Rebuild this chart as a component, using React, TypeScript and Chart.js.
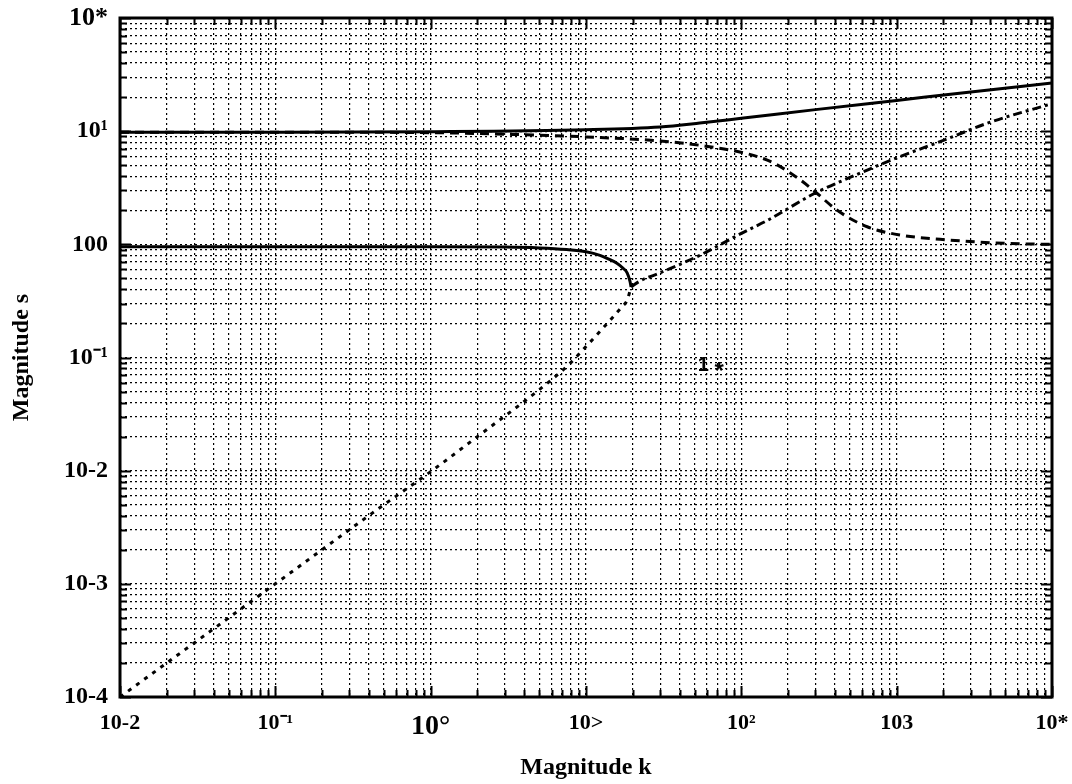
import React, { useEffect, useRef } from "react";
import { Chart, registerables } from "chart.js";
Chart.register(...registerables);

// ---- data ----
const kUpperSolid = [0.01, 0.1, 1, 10, 30, 54, 100, 300, 1000, 3000, 10000];
const sUpperSolid = [9.8, 9.8, 9.9, 10.3, 10.9, 11.8, 13.0, 15.5, 18.7, 22.2, 26.7];

const kUpperDashed = [0.01, 0.1, 1, 3, 10, 30, 54, 115, 163, 240, 300, 414, 646, 1050, 2213, 5000, 10000];
const sUpperDashed = [9.8, 9.8, 9.7, 9.4, 8.9, 8.2, 7.5, 6.2, 5.2, 3.7, 2.9, 2.0, 1.43, 1.21, 1.09, 1.02, 1.0];

const kLowerSolid = [0.01, 0.1, 1, 3, 5, 7.5, 10, 12.3, 14, 15.8, 17.2, 18.4, 19.2, 19.5];
const sLowerSolid = [0.95, 0.95, 0.95, 0.945, 0.93, 0.9, 0.86, 0.8, 0.74, 0.68, 0.62, 0.56, 0.47, 0.42];

const kLowerDotted = [0.01, 0.1, 0.5, 1, 2, 5, 7.5, 10, 12.3, 15, 17, 18.4, 19.5];
const sLowerDotted = [0.0001, 0.001, 0.005, 0.0098, 0.02, 0.052, 0.083, 0.125, 0.17, 0.23, 0.28, 0.32, 0.42];

const kRisingDashDot = [19.5, 22, 30, 54, 100, 150, 300, 500, 1000, 2000, 4000, 10000];
const sRisingDashDot = [0.42, 0.47, 0.56, 0.8, 1.25, 1.65, 2.85, 3.9, 5.8, 8.3, 12, 17.5];

// tick labels (as printed in the reference)
const xTickExponents = [-2, -1, 0, 1, 2, 3, 4];
const xTickLabels = ["10-2", "10⁻¹", "10°", "10>", "10²", "103", "10*"];
const yTickExponents = [-4, -3, -2, -1, 0, 1, 2];
const yTickLabels = ["10-4", "10-3", "10-2", "10⁻¹", "100", "10¹", "10*"];

const xTitle = "Magnitude k";
const yTitle = "Magnitude s";

// stray annotation marks in the plot
const noteTexts = ["1", "*"];
const noteK = [57, 72];
const noteS = [0.085, 0.074];

// ---- helpers ----
const SERIF = "'Liberation Serif', 'Times New Roman', serif";

function expOf(v: number): number | null {
  const l = Math.log10(v);
  const r = Math.round(l);
  return Math.abs(l - r) < 1e-6 ? r : null;
}

function pts(ks: number[], ss: number[]) {
  return ks.map((k, i) => ({ x: k, y: ss[i] }));
}

function dropHalfTicks(scale: any) {
  scale.ticks = scale.ticks.filter((t: any) => {
    const v = t.value;
    const m = v / Math.pow(10, Math.floor(Math.log10(v) + 1e-9));
    return Math.abs(m - 1.5) > 1e-6;
  });
}

const framePlugin = {
  id: "frameTicks",
  afterDraw(chart: any) {
    const { ctx, chartArea: a, scales } = chart;
    const xs = scales.x;
    const ys = scales.y;
    ctx.save();
    ctx.strokeStyle = "#000";
    ctx.lineWidth = 2;
    ctx.beginPath();
    xs.ticks.forEach((t: any) => {
      const px = Math.round(xs.getPixelForValue(t.value)) + 0.5;
      const len = expOf(t.value) !== null ? 11 : 7;
      ctx.moveTo(px, a.bottom);
      ctx.lineTo(px, a.bottom - len);
      ctx.moveTo(px, a.top);
      ctx.lineTo(px, a.top + len);
    });
    ys.ticks.forEach((t: any) => {
      const py = Math.round(ys.getPixelForValue(t.value)) + 0.5;
      const len = expOf(t.value) !== null ? 11 : 7;
      ctx.moveTo(a.left, py);
      ctx.lineTo(a.left + len, py);
      ctx.moveTo(a.right, py);
      ctx.lineTo(a.right - len, py);
    });
    ctx.stroke();
    ctx.lineWidth = 3;
    ctx.strokeRect(a.left, a.top, a.right - a.left, a.bottom - a.top);

    // annotation marks
    ctx.fillStyle = "#000";
    ctx.textAlign = "center";
    ctx.textBaseline = "middle";
    noteTexts.forEach((txt, i) => {
      ctx.font = i === 0 ? "bold 20px 'Liberation Sans', sans-serif" : "bold 24px 'Liberation Sans', sans-serif";
      ctx.fillText(txt, xs.getPixelForValue(noteK[i]), ys.getPixelForValue(noteS[i]));
    });
    ctx.restore();
  },
};

export default function App() {
  const ref = useRef<HTMLCanvasElement | null>(null);

  useEffect(() => {
    if (!ref.current) return;
    const line = (label: string, data: any[], dash: number[], width: number) => ({
      label,
      data,
      borderColor: "#000",
      backgroundColor: "#000",
      borderWidth: width,
      borderDash: dash,
      pointRadius: 0,
      showLine: true,
      cubicInterpolationMode: "monotone",
      fill: false,
    });

    const gridOpts = {
      color: "#000",
      lineWidth: 1.2,
      drawTicks: false,
    };

    const chart = new Chart(ref.current, {
      type: "scatter",
      data: {
        datasets: [
          line("upper solid", pts(kUpperSolid, sUpperSolid), [], 3),
          line("lower solid", pts(kLowerSolid, sLowerSolid), [], 3),
          line("upper dashed", pts(kUpperDashed, sUpperDashed), [9, 6], 3),
          line("rising dash-dot", pts(kRisingDashDot, sRisingDashDot), [9, 4, 3, 4], 3),
          line("lower dotted", pts(kLowerDotted, sLowerDotted), [4, 6], 3),
        ],
      },
      options: {
        responsive: false,
        animation: false,
        layout: { padding: { left: 0, top: 18, right: 20, bottom: 0 } },
        plugins: {
          legend: { display: false },
          tooltip: { enabled: false },
        },
        scales: {
          x: {
            type: "logarithmic",
            min: 0.01,
            max: 10000,
            afterBuildTicks: dropHalfTicks,
            afterFit: (s: any) => {
              s.height = 87;
              s.paddingLeft = 0;
              s.paddingRight = 0;
            },
            border: { display: false, dash: [2, 3] },
            grid: gridOpts,
            ticks: {
              autoSkip: false,
              maxRotation: 0,
              padding: 13,
              color: "#000",
              font: (c: any) => {
                const e = c.tick ? expOf(c.tick.value) : null;
                return { family: SERIF, weight: "bold", size: e === 0 ? 28 : 22 } as any;
              },
              callback: (v: any) => {
                const e = expOf(Number(v));
                if (e === null) return "";
                const i = xTickExponents.indexOf(e);
                return i >= 0 ? xTickLabels[i] : "";
              },
            },
            title: {
              display: true,
              text: xTitle,
              color: "#000",
              font: { family: SERIF, weight: "bold", size: 24 },
              padding: { top: 0, bottom: 2 },
            },
          },
          y: {
            type: "logarithmic",
            min: 0.0001,
            max: 100,
            afterBuildTicks: dropHalfTicks,
            afterFit: (s: any) => {
              s.width = 120;
              s.paddingTop = 0;
              s.paddingBottom = 0;
            },
            border: { display: false, dash: [2, 3] },
            grid: gridOpts,
            ticks: {
              autoSkip: false,
              padding: 12,
              color: "#000",
              font: (c: any) => {
                const e = c.tick ? expOf(c.tick.value) : null;
                return { family: SERIF, weight: "bold", size: e === 2 ? 26 : 24 } as any;
              },
              callback: (v: any) => {
                const e = expOf(Number(v));
                if (e === null) return "";
                const i = yTickExponents.indexOf(e);
                return i >= 0 ? yTickLabels[i] : "";
              },
            },
            title: {
              display: true,
              text: yTitle,
              color: "#000",
              font: { family: SERIF, weight: "bold", size: 24 },
              padding: { top: 7, bottom: 0 },
            },
          },
        },
      },
      plugins: [framePlugin],
    } as any);

    return () => chart.destroy();
  }, []);

  return (
    <div style={{ position: "fixed", left: 0, top: 0, width: 1072, height: 784, background: "#fff" }}>
      <canvas ref={ref} width={1072} height={784} />
    </div>
  );
}
